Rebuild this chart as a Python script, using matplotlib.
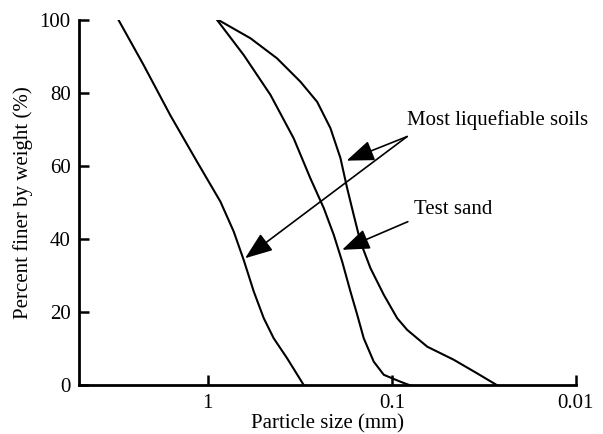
import numpy as np
import matplotlib
matplotlib.use("Agg")
import matplotlib.pyplot as plt
from matplotlib.ticker import FixedLocator, NullLocator

plt.rcParams['font.family'] = ['Liberation Serif', 'DejaVu Serif']
plt.rcParams['font.size'] = 15

# grain size curves: particle size (mm), percent finer (%)
coarse_d = [3.05, 2.23, 1.595, 1.142, 0.853, 0.722, 0.637, 0.562, 0.496, 0.438, 0.370, 0.30]
coarse_p = [100, 87.7, 73.9, 61.2, 50.3, 42.1, 34.3, 25.7, 18.4, 12.9, 7.4, 0]

sand_d = [0.889, 0.637, 0.456, 0.341, 0.277, 0.234, 0.2066, 0.186, 0.1677, 0.154,
          0.142, 0.1253, 0.1105, 0.0897, 0.0794]
sand_p = [100, 90.4, 79.5, 67.6, 56.7, 48.5, 41.2, 33.9, 25.7, 19.3, 12.9, 6.5, 2.9, 1.0, 0]

fine_d = [0.875, 0.586, 0.420, 0.3134, 0.2543, 0.2154, 0.190, 0.1748, 0.1609, 0.148,
          0.1306, 0.1105, 0.0935, 0.0825, 0.0642, 0.046, 0.0344, 0.0267]
fine_p = [100, 95.0, 89.5, 83.1, 77.6, 70.4, 62.2, 54.0, 46.6, 39.3,
          32.1, 24.8, 18.4, 15.2, 10.6, 7.0, 3.3, 0]

xticks = [1, 0.1, 0.01]
xtick_labels = ["1", "0.1", "0.01"]
yticks = [0, 20, 40, 60, 80, 100]

fig = plt.figure(figsize=(6.03, 4.34), dpi=100)
ax = fig.add_axes([0.131, 0.112, 0.824, 0.842])

for d, p in [(coarse_d, coarse_p), (sand_d, sand_p), (fine_d, fine_p)]:
    ax.plot(d, p, color='k', lw=1.5, solid_joinstyle='round')

ax.set_xscale('log')
ax.set_xlim(5, 0.01)
ax.set_ylim(0, 100)
ax.xaxis.set_major_locator(FixedLocator(xticks))
ax.xaxis.set_minor_locator(NullLocator())
ax.set_xticklabels(xtick_labels)
ax.set_yticks(yticks)

for s in ['top', 'right']:
    ax.spines[s].set_visible(False)
for s in ['left', 'bottom']:
    ax.spines[s].set_linewidth(2.0)
ax.tick_params(direction='in', length=7, width=1.8, pad=6, labelsize=15)

ax.set_xlabel("Particle size (mm)", labelpad=1)
ax.set_ylabel("Percent finer by weight (%)", labelpad=5)

# annotations
arrow = dict(arrowstyle='-|>,head_length=0.85,head_width=0.32', color='k',
             lw=1.2, shrinkA=0, shrinkB=0, mutation_scale=20)
ax.text(0.0829, 72.6, "Most liquefiable soils", ha='left', va='center')
ax.annotate('', xy=(0.176, 61.5), xytext=(0.0825, 68.1), arrowprops=arrow)
ax.annotate('', xy=(0.626, 34.8), xytext=(0.0825, 68.1), arrowprops=arrow)

ax.text(0.076, 48.0, "Test sand", ha='left', va='center')
ax.annotate('', xy=(0.186, 37.1), xytext=(0.0818, 44.8), arrowprops=arrow)

fig.savefig("out.png", dpi=100)
